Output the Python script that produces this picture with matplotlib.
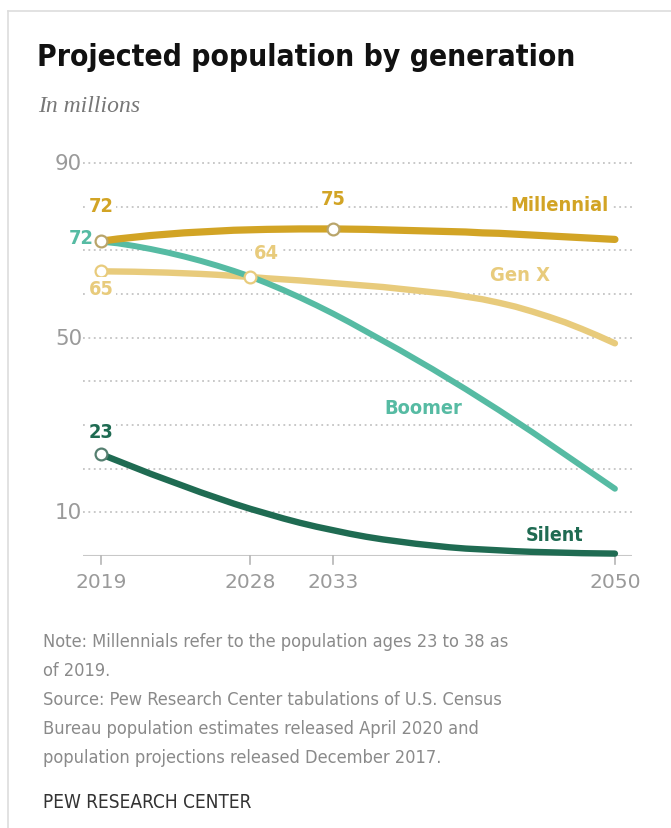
import matplotlib
matplotlib.use("Agg")
import matplotlib.pyplot as plt
from matplotlib.lines import Line2D
from matplotlib import font_manager as fm

# Data (millions), one value per year
years = list(range(2019, 2051))
millennial = [72.1, 72.6, 73.0, 73.4, 73.7, 74.0, 74.2, 74.4, 74.6, 74.7, 74.8, 74.85,
              74.9, 74.9, 74.9, 74.85, 74.8, 74.7, 74.6, 74.5, 74.4, 74.3, 74.2, 74.0,
              73.9, 73.7, 73.5, 73.3, 73.1, 72.9, 72.7, 72.5]
gen_x = [65.2, 65.15, 65.1, 65.0, 64.9, 64.75, 64.6, 64.4, 64.15, 63.9, 63.6, 63.35,
         63.1, 62.8, 62.5, 62.2, 61.9, 61.6, 61.2, 60.8, 60.4, 60.0, 59.4, 58.8,
         58.0, 57.1, 56.0, 54.8, 53.5, 52.0, 50.4, 48.7]
boomer = [72.0, 71.6, 71.0, 70.3, 69.5, 68.6, 67.6, 66.5, 65.3, 64.0, 62.5, 60.9,
          59.2, 57.4, 55.5, 53.5, 51.4, 49.3, 47.2, 45.0, 42.8, 40.5, 38.2, 35.8,
          33.4, 30.9, 28.4, 25.8, 23.2, 20.6, 18.0, 15.4]
silent = [23.3, 21.8, 20.3, 18.8, 17.4, 16.0, 14.6, 13.3, 12.0, 10.8, 9.7, 8.6,
          7.6, 6.7, 5.9, 5.1, 4.4, 3.8, 3.3, 2.8, 2.4, 2.0, 1.7, 1.5,
          1.3, 1.1, 0.95, 0.85, 0.75, 0.65, 0.6, 0.55]

xticks = [2019, 2028, 2033, 2050]
grid_vals = [10, 20, 30, 40, 50, 60, 70, 80, 90]
ylabels = [90, 50, 10]

# colours
c_mill = "#D2A425"
c_genx = "#E8CB7C"
c_boom = "#56BBA3"
c_sil = "#1F6B52"

W, H = 671, 829
fig = plt.figure(figsize=(W / 100, H / 100), dpi=100)
renderer = fig.canvas.get_renderer()

def fx(px):
    return px / W

def fy(py):
    return 1 - py / H

# pick a narrow sans if there is one
names = {f.name for f in fm.fontManager.ttflist}
cond = any(f.name == "DejaVu Sans" and f.stretch == "condensed" for f in fm.fontManager.ttflist)
if "Liberation Sans Narrow" in names:
    narrow = dict(family=["Liberation Sans Narrow", "DejaVu Sans"])
elif cond:
    narrow = dict(family=["DejaVu Sans"], fontstretch="condensed")
else:
    narrow = dict(family=["Liberation Sans", "DejaVu Sans"])
regular = dict(family=["DejaVu Sans"])

def fit(t, width_px):
    # scale font size so the text spans the width seen in the reference
    w = t.get_window_extent(renderer).width
    t.set_fontsize(t.get_fontsize() * width_px / w)

# axes placed in pixel terms
ax = fig.add_axes([fx(83), fy(557), fx(632) - fx(83), fy(164) - fy(557)])
ax.set_xlim(2017.91, 2051.03)
ax.set_ylim(0, 90)
ax.axis("off")

# dotted gridlines
for v in grid_vals:
    ax.axhline(v, color="#c4c4c4", lw=1.3, ls=(0, (1, 2)), zorder=1, clip_on=False)
for v in ylabels:
    t = ax.text(2017.85, v, str(v), ha="right", va="center", fontsize=13, color="#9a9a9a", **regular)
    fit(t, 27)

# x axis
ax.axhline(0, color="#c8c8c8", lw=1.5, zorder=1)
for t in xticks:
    ax.plot([t, t], [0, -1.9], color="#b5b5b5", lw=1.2, clip_on=False)
    tt = ax.text(t, -3.6, str(t), ha="center", va="top", fontsize=13, color="#9a9a9a", **regular)
    fit(tt, 51)

# lines
ax.plot(years, gen_x, color=c_genx, lw=4.6, solid_capstyle="round", zorder=3, clip_on=False)
ax.plot(years, silent, color=c_sil, lw=4.6, solid_capstyle="round", zorder=3, clip_on=False)
ax.plot(years, boomer, color=c_boom, lw=4.3, solid_capstyle="round", zorder=4, clip_on=False)
ax.plot(years, millennial, color=c_mill, lw=5.2, solid_capstyle="round", zorder=5, clip_on=False)

# open circle markers
marks = [(2019, gen_x[0], c_genx), (2028, gen_x[9], c_genx), (2019, silent[0], "#557f70"),
         (2019, millennial[0], "#b9a56a"), (2033, millennial[14], "#b9a56a")]
for x, y, c in marks:
    ax.plot(x, y, "o", ms=8.5, mfc="white", mec=c, mew=1.6, zorder=6, clip_on=False)

box = dict(facecolor="white", edgecolor="none", pad=1.5)
lab = dict(fontweight="bold", fontsize=14, zorder=7, va="center", **narrow)

labels = [
    (2019, 80.3, "72", c_mill, "center", 25, box),
    (2018.55, 73.0, "72", c_boom, "right", 25, None),
    (2019, 61.3, "65", c_genx, "center", 25, box),
    (2029.0, 69.6, "64", c_genx, "center", 25, box),
    (2033, 81.9, "75", c_mill, "center", 25, box),
    (2019, 28.6, "23", c_sil, "center", 25, box),
    (2049.6, 80.6, "Millennial", c_mill, "right", 100, box),
    (2046.1, 64.5, "Gen X", c_genx, "right", 60, box),
    (2040.8, 34.0, "Boomer", c_boom, "right", 78, box),
    (2048.1, 5.0, "Silent", c_sil, "right", 58, box),
]
for x, y, s, c, ha, wpx, bb in labels:
    t = ax.text(x, y, s, color=c, ha=ha, bbox=bb, **lab)
    fit(t, wpx)

# title / subtitle
t = fig.text(fx(37), fy(57), "Projected population by generation", fontsize=22, fontweight="bold",
             color="#111111", va="center", ha="left", **narrow)
fit(t, 536)
t = fig.text(fx(38), fy(107), "In millions", fontsize=15, style="italic", color="#777777",
             family=["Liberation Serif", "DejaVu Serif"], va="center", ha="left")
fit(t, 102)

# notes
notes = ["Note: Millennials refer to the population ages 23 to 38 as",
         "of 2019.",
         "Source: Pew Research Center tabulations of U.S. Census",
         "Bureau population estimates released April 2020 and",
         "population projections released December 2017."]
t0 = fig.text(fx(43), fy(642), notes[0], fontsize=13.5, color="#8a8a8a",
              va="center", ha="left", **narrow)
fit(t0, 464)
for i, line in enumerate(notes[1:], start=1):
    fig.text(fx(43), fy(642 + i * 29), line, fontsize=t0.get_fontsize(), color="#8a8a8a",
             va="center", ha="left", **narrow)
t = fig.text(fx(43), fy(803), "PEW RESEARCH CENTER", fontsize=13.5, color="#333333",
             va="center", ha="left", **narrow)
fit(t, 210)

# faint frame around the graphic
fig.add_artist(Line2D([fx(8), 1], [fy(12), fy(12)], color="#dddddd", lw=1.2))
fig.add_artist(Line2D([fx(8), fx(8)], [fy(12), 0], color="#dddddd", lw=1.2))

fig.savefig("out.png", dpi=100)
